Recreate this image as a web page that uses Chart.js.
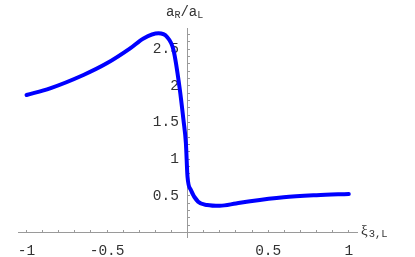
<!DOCTYPE html>
<html>
<head>
<meta charset="utf-8">
<script src="https://cdn.jsdelivr.net/npm/chart.js@4.4.1/dist/chart.umd.min.js"></script>
<style>
  html, body { margin: 0; padding: 0; background: #fff; }
  #wrap { width: 415px; height: 257px; }
</style>
</head>
<body>
<div id="wrap"><canvas id="plot"></canvas></div>
<script>
// ========== DATA ==========
const xiValues = [-1.0, -0.854, -0.647, -0.502, -0.357, -0.274, -0.181, -0.129, -0.088, -0.051,
                  -0.026, -0.011, -0.001, 0.02, 0.065, 0.121, 0.2, 0.3, 0.388, 0.595, 0.80, 1.0];
const ratioValues = [1.876, 1.967, 2.149, 2.308, 2.512, 2.648, 2.717, 2.67, 2.49, 1.99,
                     1.535, 1.22, 0.763, 0.58, 0.42, 0.377, 0.366, 0.398, 0.428, 0.482, 0.51, 0.527];
const xTickLabels = [-1, -0.5, 0.5, 1];
const yTickLabels = [0.5, 1, 1.5, 2, 2.5];

const AXIS_GRAY = '#9a9a9a';
const TEXT_COLOR = '#333';
const MONO = '"Liberation Mono", "DejaVu Sans Mono", monospace';

function isLabelled(v, list) {
    return list.some(t => Math.abs(t - v) < 1e-6);
}

// axis titles, Mathematica style with subscripts
const axisTitles = {
    id: 'axisTitles',
    afterDraw(chart) {
        const ctx = chart.ctx;
        ctx.save();
        ctx.fillStyle = TEXT_COLOR;
        ctx.textBaseline = 'alphabetic';
        ctx.textAlign = 'left';

        // y title: aR/aL
        let x = 166, y = 15.5;
        const big = '14px ' + MONO, small = '10px ' + MONO;
        const parts = [['a', big, 0], ['R', small, 2], ['/', big, 0], ['a', big, 0], ['L', small, 2]];
        parts.forEach(([t, f, dy]) => {
            ctx.font = f;
            ctx.fillText(t, x, y + dy);
            x += ctx.measureText(t).width;
        });

        // x title: ξ3,L
        x = 361; y = 235;
        ctx.font = '15px "Liberation Serif", "DejaVu Serif", serif';
        ctx.fillText('ξ', x, y);
        x += ctx.measureText('ξ').width + 1;
        ctx.font = '10.5px ' + MONO;
        ctx.fillText('3,L', x, y + 2);
        ctx.restore();
    }
};

// ========== CHART ==========
const ctx = document.getElementById('plot').getContext('2d');
new Chart(ctx, {
    type: 'line',
    data: {
        datasets: [{
            data: xiValues.map((v, i) => ({ x: v, y: ratioValues[i] })),
            borderColor: '#0000ff',
            borderWidth: 4,
            pointRadius: 0,
            fill: false,
            cubicInterpolationMode: 'monotone',
            borderCapStyle: 'round',
            borderJoinStyle: 'round'
        }]
    },
    options: {
        responsive: true,
        maintainAspectRatio: false,
        animation: false,
        devicePixelRatio: 1,
        layout: { padding: { left: 18, right: 58, top: 28, bottom: 20 } },
        plugins: { legend: { display: false }, tooltip: { enabled: false } },
        scales: {
            x: {
                type: 'linear',
                position: { y: 0 },
                min: -1.053,
                max: 1.051,
                border: { color: AXIS_GRAY, width: 1 },
                grid: { drawOnChartArea: false, drawTicks: true, tickLength: -3, tickColor: AXIS_GRAY },
                ticks: {
                    stepSize: 0.1,
                    includeBounds: false,
                    autoSkip: false,
                    maxRotation: 0,
                    padding: 13,
                    color: TEXT_COLOR,
                    font: { family: MONO, size: 14.5 },
                    callback: v => isLabelled(v, xTickLabels) ? String(v) : ''
                }
            },
            y: {
                type: 'linear',
                position: { x: 0 },
                min: -0.06,
                max: 2.79,
                border: { color: AXIS_GRAY, width: 1 },
                grid: { drawOnChartArea: false, drawTicks: true, tickLength: -3, tickColor: AXIS_GRAY },
                ticks: {
                    stepSize: 0.1,
                    includeBounds: false,
                    autoSkip: false,
                    color: TEXT_COLOR,
                    font: { family: MONO, size: 14.5 },
                    // trailing space keeps the right-aligned label clear of the axis
                    callback: v => isLabelled(v, yTickLabels) ? String(v) + ' ' : ''
                }
            }
        }
    },
    plugins: [axisTitles]
});
</script>
</body>
</html>
